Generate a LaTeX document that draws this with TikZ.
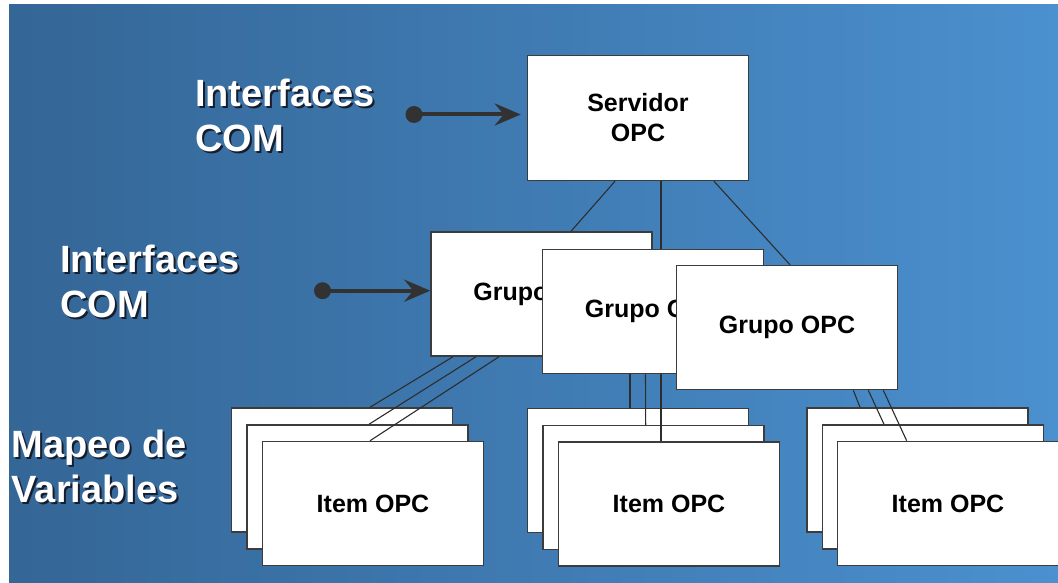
\documentclass[tikz,border=0pt]{standalone}
\usepackage{fontspec}
\setmainfont{Liberation Sans}
\usetikzlibrary{arrows.meta,calc}

\definecolor{bgleft}{RGB}{52,102,150}
\definecolor{bgright}{RGB}{75,144,207}
\definecolor{edgec}{RGB}{60,60,60}
\definecolor{wirec}{RGB}{45,45,45}
\definecolor{inkc}{RGB}{50,50,50}
\definecolor{shadowc}{RGB}{22,30,45}

% white lettering with a small dark drop shadow
\newcommand\shadowed[1]{\makebox[0pt][l]{\kern2pt\raisebox{-2pt}{\textcolor{shadowc}{#1}}}#1}

\begin{document}
\begin{tikzpicture}[x=1pt,y=-1pt,
  box/.style={draw=edgec, line width=1.5pt, fill=white,
    minimum width=221pt, minimum height=124pt, inner sep=0pt,
    align=center, font=\fontsize{25}{30}\selectfont\bfseries},
  sidetext/.style={anchor=base west, align=left, inner sep=0pt,
    text=white, font=\fontsize{38}{45}\selectfont\bfseries},
  wire/.style={draw=wirec, line width=1.1pt},
  feed/.style={draw=inkc, line width=4pt,
    -{Stealth[length=26pt,width=22pt,inset=9pt]}},
  dotnode/.style={circle, fill=inkc, minimum size=17pt, inner sep=0pt}]

  \useasboundingbox (0,0) rectangle (1058,583);
  \fill[white] (0,0) rectangle (1058,583);
  \shade[left color=bgleft, right color=bgright] (9,5) rectangle (1058,583);

  % side captions (anchored at the baseline of their last line)
  \node[sidetext] (lab1) at (195,152) {\shadowed{Interfaces}\\\shadowed{COM}};
  \node[sidetext] (lab2) at (60,317) {\shadowed{Interfaces}\\\shadowed{COM}};
  \node[sidetext] (lab3) at (11.5,502) {\shadowed{Mapeo de}\\\shadowed{Variables}};

  % server
  \node[box, minimum height=125pt] (srv) at (638,118) {Servidor\\OPC};

  % COM interface into the server
  \node[dotnode] (dot1) at (414,114.5) {};
  \draw[feed] (dot1.center) -- ($(srv.west)+(-6,-3.5)$);

  % groups
  \node[box] (g1) at (541.5,294) {Grupo OPC};
  \node[box] (g2) at (653,311.5) {Grupo OPC};
  \node[box] (g3) at (787,327.5) {Grupo OPC};

  % server to groups
  \draw[wire] ($(srv.south)+(-23,0)$) -- ($(g1.north)+(29.5,0)$);
  \draw[wire] ($(srv.south)+(23,0)$) -- ($(g2.north)+(8,0)$);
  \draw[wire] ($(srv.south)+(76,0)$) -- ($(g3.north)+(3,0)$);

  % COM interface into the groups
  \node[dotnode] (dot2) at (322.5,290.7) {};
  \draw[feed] (dot2.center) -- ($(g1.west)+(0,-3.3)$);

  % item stacks
  \node[box] (i1a) at (342,470) {};
  \node[box] (i1b) at (357.5,487) {};
  \node[box] (i1c) at (373,503.5) {Item OPC};

  \node[box] (i2a) at (638,470.5) {};
  \node[box] (i2b) at (653.5,487.5) {};
  \node[box] (i2c) at (669,504) {Item OPC};

  \node[box] (i3a) at (917.7,470) {};
  \node[box] (i3b) at (933,487) {};
  \node[box] (i3c) at (948,503.5) {Item OPC};

  % groups to items
  \draw[wire] ($(g1.south)+(-88.5,0)$) -- ($(i1a.north)+(28,0)$);
  \draw[wire] ($(g1.south)+(-65.5,0)$) -- ($(i1b.north)+(11.5,0)$);
  \draw[wire] ($(g1.south)+(-42.5,0)$) -- ($(i1c.north)+(-3,0)$);

  \draw[wire] ($(g2.south)+(-23,0)$) -- ($(i2a.north)+(-8,0)$);
  \draw[wire] ($(g2.south)+(-7.5,0)$) -- ($(i2b.north)+(-7.8,0)$);
  \draw[wire] ($(g2.south)+(8,0)$) -- ($(i2c.north)+(-8,0)$);

  \draw[wire] ($(g3.south)+(66.3,0)$) -- ($(i3a.north)+(-57.7,0)$);
  \draw[wire] ($(g3.south)+(81.3,0)$) -- ($(i3b.north)+(-49,0)$);
  \draw[wire] ($(g3.south)+(96.3,0)$) -- ($(i3c.north)+(-41.3,0)$);
\end{tikzpicture}
\end{document}
